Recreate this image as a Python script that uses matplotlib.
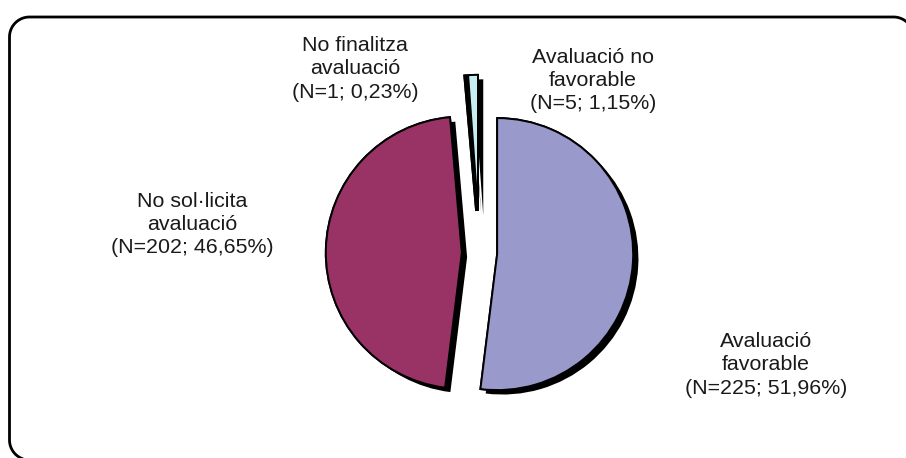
import matplotlib
matplotlib.use("Agg")
import matplotlib.pyplot as plt
import numpy as np
import matplotlib.patheffects as pe

# Data
categories = ["Avaluació favorable", "No sol·licita avaluació",
              "No finalitza avaluació", "Avaluació no favorable"]
counts = [225, 202, 1, 5]
label_texts = ["Avaluació\nfavorable\n(N=225; 51,96%)",
               "No sol·licita\navaluació\n(N=202; 46,65%)",
               "No finalitza\navaluació\n(N=1; 0,23%)",
               "Avaluació no\nfavorable\n(N=5; 1,15%)"]
colors = ["#9999CC", "#993366", "#FFFFCC", "#C6EEF2"]
explode_frac = [0.13, 0.13, 0.31, 0.31]

W, H = 906, 458
fig = plt.figure(figsize=(W / 100, H / 100), dpi=100)
ax = fig.add_axes([0, 0, 1, 1])
ax.axis("off")

R = 136
cx, cy = 479.5, H - 253
wedges, _ = ax.pie(counts, radius=R, center=(cx, cy), startangle=90,
                   counterclock=False, colors=colors,
                   explode=[e * R for e in explode_frac],
                   wedgeprops=dict(edgecolor="black", linewidth=1.4))
for w in wedges:
    w.set_path_effects([pe.withSimplePatchShadow(offset=(3.8, -3.2),
                                                 shadow_rgbFace="black",
                                                 alpha=1.0),
                        pe.Normal()])
ax.set_xlim(0, W)
ax.set_ylim(0, H)
ax.set_aspect("auto")

font = dict(family=["Liberation Sans", "DejaVu Sans"], fontsize=15.4,
            color="#1a1a1a", ha="center", va="center", linespacing=1.28)
label_pos = [(766, H - 365), (192.5, H - 224.5), (355, H - 69), (593, H - 80.5)]
for (x, y), t in zip(label_pos, label_texts):
    ax.text(x, y, t, **font)

# rounded frame (partly outside the canvas on the right and bottom)
x0, x1, y0, y1, rr = 9.5, 913.5, -2.0, H - 17.0, 20.0
def arc(xc, yc, a0, a1):
    t = np.radians(np.linspace(a0, a1, 30))
    return xc + rr * np.cos(t), yc + rr * np.sin(t)
segs = []
ax_, ay_ = arc(x1 - rr, y1 - rr, 0, 90)
segs.append((ax_, ay_))
segs.append((np.array([x1 - rr, x0 + rr]), np.array([y1, y1])))
bx, by = arc(x0 + rr, y1 - rr, 90, 180)
segs.append((bx, by))
segs.append((np.array([x0, x0]), np.array([y1 - rr, y0 + rr])))
cx_, cy_ = arc(x0 + rr, y0 + rr, 180, 270)
segs.append((cx_, cy_))
segs.append((np.array([x0 + rr, W + 5]), np.array([y0, y0])))
bxs = np.concatenate([s[0] for s in segs])
bys = np.concatenate([s[1] for s in segs])
ax.plot(bxs, bys, color="black", lw=2.0, solid_capstyle="butt",
        clip_on=True, zorder=0)

fig.savefig("out.png", dpi=100)
